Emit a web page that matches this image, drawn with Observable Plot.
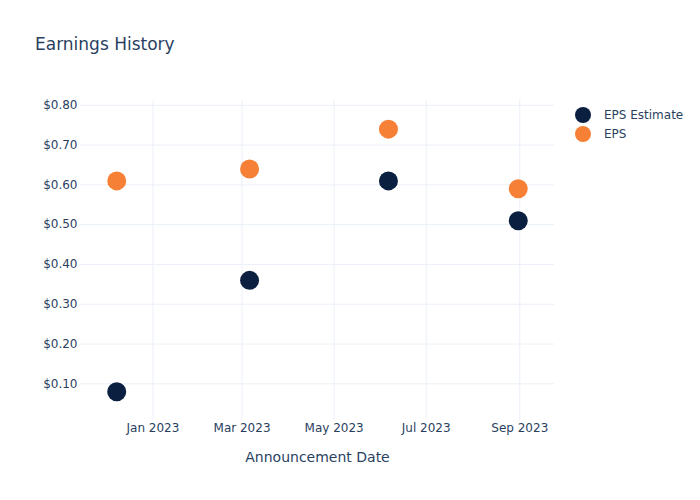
<!DOCTYPE html>
<html>
<head>
<meta charset="utf-8">
<script src="https://cdn.jsdelivr.net/npm/d3@7"></script>
<script src="https://cdn.jsdelivr.net/npm/@observablehq/plot@0.6"></script>
<style>
  html, body { margin: 0; padding: 0; background: #fff; }
  #wrap { position: relative; width: 700px; height: 500px; font-family: "DejaVu Sans", sans-serif; color: #2a3f5f; }
  #title { position: absolute; left: 35px; top: 34px; font-size: 17px; line-height: 20px; white-space: nowrap; }
  #legend { position: absolute; left: 575px; top: 105px; font-size: 12px; }
  .li { display: flex; align-items: center; height: 19px; }
  .sw { width: 16px; height: 16px; border-radius: 50%; margin-right: 13px; }
  svg { position: absolute; left: 0; top: 0; }
</style>
</head>
<body>
<div id="wrap">
  <div id="title">Earnings History</div>
  <div id="legend"></div>
</div>
<script>
const dates = ["2022-12-08", "2023-03-06", "2023-06-06", "2023-08-31"];
const epsEstimate = [0.08, 0.36, 0.61, 0.51];
const eps = [0.61, 0.64, 0.74, 0.59];
const seriesNames = ["EPS Estimate", "EPS"];
const seriesColors = ["#0b1f40", "#f68036"];
const yTicks = [0.1, 0.2, 0.3, 0.4, 0.5, 0.6, 0.7, 0.8];

const rows = [];
dates.forEach((d, i) => {
  rows.push({date: new Date(d), value: epsEstimate[i], series: seriesNames[0]});
  rows.push({date: new Date(d), value: eps[i], series: seriesNames[1]});
});

const fmtY = d3.format("$.2f");
const chart = Plot.plot({
  width: 700,
  height: 500,
  marginLeft: 80,
  marginRight: 146,
  marginTop: 100,
  marginBottom: 80,
  style: {fontFamily: "DejaVu Sans, sans-serif", fontSize: "12px", color: "#2a3f5f", background: "transparent"},
  x: {type: "utc", domain: [new Date("2022-11-14"), new Date("2023-09-24")]},
  y: {domain: [0.0078, 0.812]},
  color: {domain: seriesNames, range: seriesColors},
  marks: [
    Plot.gridX(d3.utcMonth.every(2).range(new Date("2022-11-14"), new Date("2023-09-24")), {stroke: "#ebf0f8", strokeOpacity: 1, strokeWidth: 1}),
    Plot.gridY(yTicks, {stroke: "#ebf0f8", strokeOpacity: 1, strokeWidth: 1}),
    Plot.axisX({ticks: d3.utcMonth.every(2), tickFormat: d3.utcFormat("%b %Y"), tickSize: 0, tickPadding: 3, fontSize: 12, fill: "#2a3f5f",
      label: "Announcement Date", labelAnchor: "center", labelArrow: "none", labelOffset: 41}),
    Plot.axisY({ticks: yTicks, tickFormat: fmtY, tickSize: 0, tickPadding: 3, fontSize: 12, fill: "#2a3f5f", label: null}),
    Plot.dot(rows, {x: "date", y: "value", fill: "series", r: 9.5, stroke: null})
  ]
});
chart.querySelectorAll("g[aria-label='x-axis label'] text").forEach(t => { t.setAttribute("font-size", "14"); });
document.getElementById("wrap").appendChild(chart);

const legend = document.getElementById("legend");
seriesNames.forEach((n, i) => {
  const li = document.createElement("div");
  li.className = "li";
  const sw = document.createElement("div");
  sw.className = "sw";
  sw.style.background = seriesColors[i];
  const tx = document.createElement("span");
  tx.textContent = n;
  li.appendChild(sw); li.appendChild(tx);
  legend.appendChild(li);
});
</script>
</body>
</html>
